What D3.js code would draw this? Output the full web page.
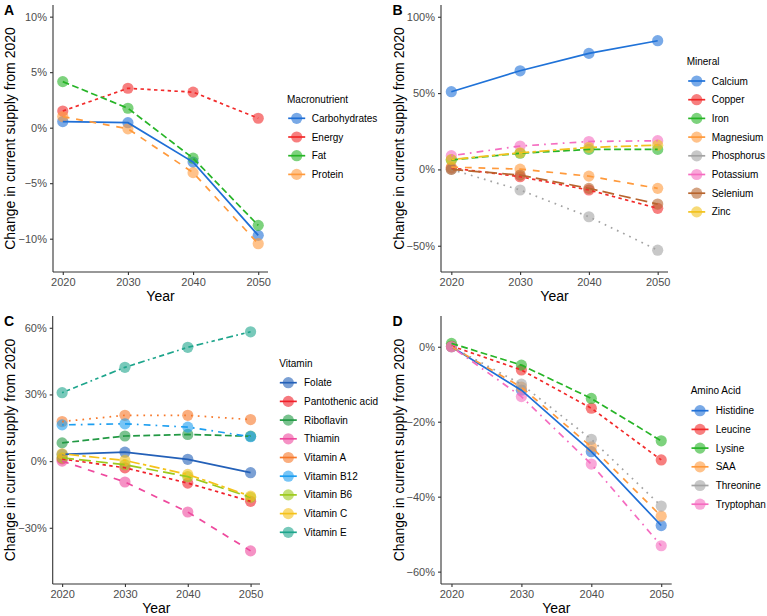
<!DOCTYPE html>
<html><head><meta charset="utf-8">
<script src="https://cdn.jsdelivr.net/npm/d3@7"></script>
<style>
html,body{margin:0;padding:0;background:#fff;}
svg{display:block;font-family:"Liberation Sans",Arial,Helvetica,sans-serif;}
</style></head>
<body><svg id="chart" width="767" height="616"></svg>
<script>
// ---------- DATA ----------
const years = [2020, 2030, 2040, 2050];
const xTicks = [2020, 2030, 2040, 2050];

const macroTitle = "Macronutrient";
const macroNames = ["Carbohydrates", "Energy", "Fat", "Protein"];
const macroValues = [
  [0.55, 0.45, -3.1, -9.7],
  [1.5, 3.55, 3.2, 0.85],
  [4.15, 1.75, -2.75, -8.8],
  [1.0, -0.1, -4.05, -10.45]
];
const macroTicks = [-10, -5, 0, 5, 10];

const mineralTitle = "Mineral";
const mineralNames = ["Calcium", "Copper", "Iron", "Magnesium", "Phosphorus", "Potassium", "Selenium", "Zinc"];
const mineralValues = [
  [50.9, 64.6, 76.0, 84.3],
  [1.0, -4.8, -13.5, -25.5],
  [6.2, 10.6, 13.1, 13.1],
  [1.5, 0.2, -4.4, -12.4],
  [0.0, -13.5, -31.0, -52.9],
  [9.0, 15.3, 18.3, 18.8],
  [0.0, -3.7, -12.4, -22.7],
  [6.5, 10.9, 14.4, 15.9]
];
const mineralTicks = [-50, 0, 50, 100];

const vitaminTitle = "Vitamin";
const vitaminNames = ["Folate", "Pantothenic acid", "Riboflavin", "Thiamin", "Vitamin A", "Vitamin B12", "Vitamin B6", "Vitamin C", "Vitamin E"];
const vitaminValues = [
  [3.0, 4.0, 0.8, -5.2],
  [1.0, -3.0, -9.9, -18.1],
  [8.2, 11.3, 12.0, 11.2],
  [0.0, -9.4, -22.9, -40.4],
  [17.8, 20.6, 20.6, 18.7],
  [16.3, 16.8, 15.3, 11.0],
  [1.5, -1.6, -7.0, -16.3],
  [3.3, 0.3, -6.0, -15.8],
  [30.8, 42.2, 51.2, 58.2]
];
const vitaminTicks = [-30, 0, 30, 60];

const aminoTitle = "Amino Acid";
const aminoNames = ["Histidine", "Leucine", "Lysine", "SAA", "Threonine", "Tryptophan"];
const aminoValues = [
  [0.0, -11.6, -28.0, -47.7],
  [0.2, -6.2, -16.4, -30.2],
  [0.9, -4.9, -13.8, -25.1],
  [0.0, -10.8, -26.7, -45.2],
  [0.0, -10.0, -24.7, -42.5],
  [0.0, -13.3, -31.3, -53.1]
];
const aminoTicks = [-60, -40, -20, 0];

// ---------- STYLES ----------
const macroColors = ["#1f6fd6", "#f22a2a", "#27b427", "#ff9a3c"];
const mineralColors = ["#1f72d8", "#f22a2a", "#27b427", "#ff9a3c", "#a3a3a3", "#f56cc0", "#b8652f", "#f2c21d"];
const vitaminColors = ["#2360b8", "#f0202a", "#229944", "#ee4a9e", "#f7782a", "#1c9ef0", "#9cc91c", "#f5c21a", "#1ea58c"];
const aminoColors = ["#1f6fd6", "#f22a2a", "#27b427", "#ff9a3c", "#a3a3a3", "#f56cc0"];
const lineTypes = ["", "22", "42", "44", "13", "1343", "73", "2262", "12223242"];
const LWD = 1.7;
function dash(i) {
  const t = lineTypes[i];
  if (!t) return null;
  return t.split("").map(c => (+c * LWD).toFixed(2)).join(",");
}

const panels = [
  {label: "A", title: macroTitle, names: macroNames, values: macroValues, colors: macroColors, ticks: macroTicks,
   x: [53, 268], y: [272, 5], dom: [-13.0, 11.05], yTitleX: 15, legend: {tx: 287, ty: 99, y0: 118.3, kx: 296.7, lx: 311.7}},
  {label: "B", title: mineralTitle, names: mineralNames, values: mineralValues, colors: mineralColors, ticks: mineralTicks,
   x: [441, 668], y: [272, 5], dom: [-67.2, 107.7], yTitleX: 403.5, legend: {tx: 686.7, ty: 61.7, y0: 81, kx: 696.7, lx: 711.7}},
  {label: "C", title: vitaminTitle, names: vitaminNames, values: vitaminValues, colors: vitaminColors, ticks: vitaminTicks,
   x: [52.7, 260], y: [584, 316], dom: [-55.3, 65.3], yTitleX: 15, legend: {tx: 279.3, ty: 363.3, y0: 382.7, kx: 288.3, lx: 304}},
  {label: "D", title: aminoTitle, names: aminoNames, values: aminoValues, colors: aminoColors, ticks: aminoTicks,
   x: [441, 671.7], y: [584, 316], dom: [-63.3, 8.2], yTitleX: 403.5, legend: {tx: 690.7, ty: 390.7, y0: 410.7, kx: 700, lx: 715.7}}
];

const svg = d3.select("#chart");
const AX = "#333333", TXT = "#4d4d4d";

panels.forEach(p => {
  const x = d3.scaleLinear().domain([2018.5, 2051.5]).range(p.x);
  const y = d3.scaleLinear().domain(p.dom).range(p.y);
  const g = svg.append("g");

  // axes
  const yAxis = d3.axisLeft(y).tickValues(p.ticks).tickSize(3).tickPadding(3).tickFormat(d => (d < 0 ? "\u2212" + Math.abs(d) : d) + "%");
  const xAxis = d3.axisBottom(x).tickValues(xTicks).tickSize(3).tickPadding(3).tickFormat(d3.format("d"));
  const ya = g.append("g").attr("transform", `translate(${p.x[0]},0)`).call(yAxis);
  const xa = g.append("g").attr("transform", `translate(0,${p.y[0]})`).call(xAxis);
  [ya, xa].forEach(a => {
    a.select(".domain").attr("stroke", AX).attr("stroke-width", 1.1);
    a.selectAll(".tick line").attr("stroke", AX).attr("stroke-width", 1.1);
    a.selectAll(".tick text").attr("fill", TXT).attr("font-size", 11).attr("font-family", "Liberation Sans, Arial, sans-serif");
  });
  ya.select(".domain").attr("d", `M0,${p.y[1]}V${p.y[0]}`);
  xa.select(".domain").attr("d", `M${p.x[0]},0H${p.x[1]}`);

  // points (under lines)
  p.values.forEach((vals, i) => {
    g.append("g").selectAll("circle").data(years.map((yr, j) => [yr, vals[j]])).join("circle")
      .attr("cx", d => x(d[0])).attr("cy", d => y(d[1])).attr("r", 5.6)
      .attr("fill", p.colors[i]).attr("fill-opacity", 0.6);
  });
  // lines
  const line = d3.line().x(d => x(d[0])).y(d => y(d[1]));
  p.values.forEach((vals, i) => {
    g.append("path").datum(years.map((yr, j) => [yr, vals[j]]))
      .attr("d", line).attr("fill", "none").attr("stroke", p.colors[i])
      .attr("stroke-width", LWD).attr("stroke-dasharray", dash(i));
  });

  // titles
  const yMid = (p.y[0] + p.y[1]) / 2;
  g.append("text").attr("transform", `translate(${p.yTitleX},${yMid}) rotate(-90)`)
    .attr("text-anchor", "middle").attr("font-size", 14).attr("fill", "#000")
    .text("Change in current supply from 2020");
  g.append("text").attr("x", (p.x[0] + p.x[1]) / 2).attr("y", p.y[0] + 29)
    .attr("text-anchor", "middle").attr("font-size", 14).attr("fill", "#000").text("Year");
  g.append("text").attr("x", p.yTitleX < 100 ? 4 : 392.5).attr("y", p.y[1] + 10)
    .attr("font-size", 14).attr("font-weight", "bold").attr("fill", "#000").text(p.label);

  // legend
  const L = p.legend;
  const lg = g.append("g");
  lg.append("text").attr("x", L.tx).attr("y", L.ty).attr("dy", "0.35em")
    .attr("font-size", 10).attr("fill", "#000").text(p.title);
  p.names.forEach((n, i) => {
    const cy = L.y0 + i * 18.7;
    lg.append("line").attr("x1", L.kx - 8.5).attr("x2", L.kx + 8.5).attr("y1", cy).attr("y2", cy)
      .attr("stroke", p.colors[i]).attr("stroke-width", LWD);
    lg.append("circle").attr("cx", L.kx).attr("cy", cy).attr("r", 5.6)
      .attr("fill", p.colors[i]).attr("fill-opacity", 0.6);
    lg.append("text").attr("x", L.lx).attr("y", cy).attr("dy", "0.35em")
      .attr("font-size", 10).attr("fill", "#000").text(n);
  });
});
</script></body></html>
